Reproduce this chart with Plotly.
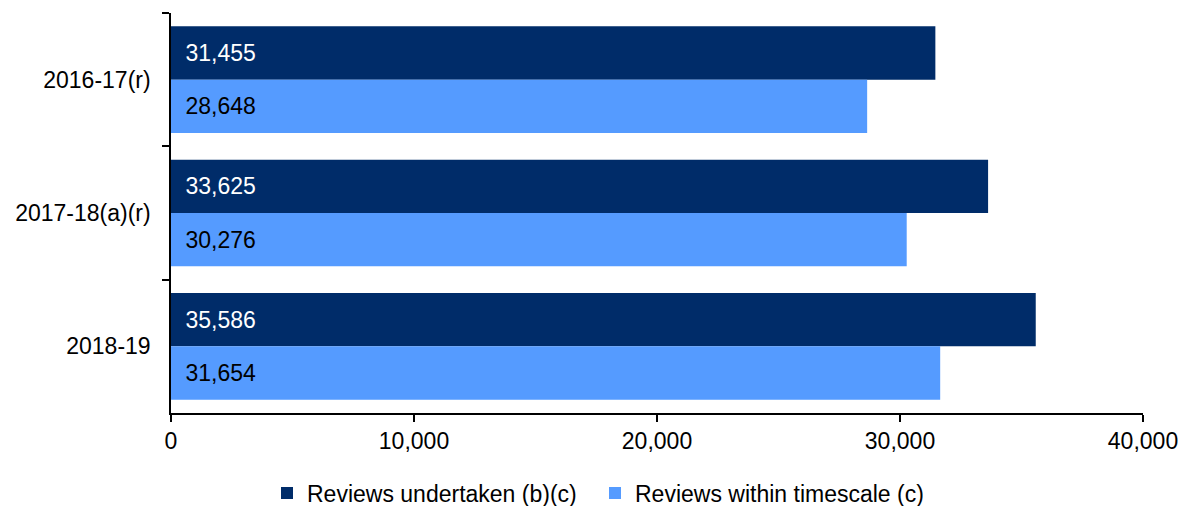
import plotly.graph_objects as go

# Review counts by financial year
years = ["2016-17(r)", "2017-18(a)(r)", "2018-19"]
reviews_undertaken = [31455, 33625, 35586]
reviews_within_timescale = [28648, 30276, 31654]

series_names = ["Reviews undertaken (b)(c)", "Reviews within timescale (c)"]
dark_blue = "#002C69"
light_blue = "#559BFF"
font_family = "Liberation Sans, Arial, sans-serif"
font_size = 23

fig = go.Figure()
for name, values, colour, text_colour in [
    (series_names[0], reviews_undertaken, dark_blue, "white"),
    (series_names[1], reviews_within_timescale, light_blue, "black"),
]:
    fig.add_trace(go.Bar(
        y=years,
        x=values,
        orientation="h",
        name=name,
        marker=dict(color=colour, line=dict(width=0)),
        text=[f"\u2002{v:,}" for v in values],
        textposition="inside",
        insidetextanchor="start",
        textangle=0,
        textfont=dict(color=text_colour, size=font_size, family=font_family),
        cliponaxis=False,
    ))

fig.update_layout(
    barmode="group",
    bargap=0.2,
    bargroupgap=0,
    width=1184,
    height=506,
    margin=dict(l=171, r=41, t=13, b=93, autoexpand=False),
    paper_bgcolor="white",
    plot_bgcolor="white",
    font=dict(family=font_family, size=font_size, color="black"),
    uniformtext=dict(mode=False),
    legend=dict(
        orientation="h",
        x=267 / 1184,
        xref="container",
        xanchor="left",
        y=1 - 493 / 506,
        yref="container",
        yanchor="middle",
        font=dict(size=font_size),
        traceorder="normal",
        itemwidth=30,
        entrywidth=283,
        tracegroupgap=0,
    ),
    xaxis=dict(
        range=[0, 40000],
        tickvals=[0, 10000, 20000, 30000, 40000],
        tickformat=",",
        showgrid=False,
        zeroline=False,
        showline=True,
        linecolor="black",
        linewidth=1.5,
        ticks="outside",
        ticklen=7,
        tickwidth=1.5,
        tickcolor="black",
        tickfont=dict(size=font_size),
        fixedrange=True,
    ),
    yaxis=dict(
        type="category",
        autorange="reversed",
        showgrid=False,
        showline=True,
        linecolor="black",
        linewidth=1.5,
        ticks="outside",
        tickson="boundaries",
        ticklen=7,
        tickwidth=1.5,
        tickcolor="black",
        ticklabelstandoff=14,
        tickfont=dict(size=font_size),
        fixedrange=True,
    ),
)

fig.write_html("out.html")
